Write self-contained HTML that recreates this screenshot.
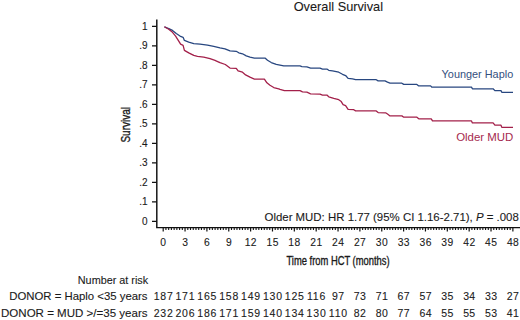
<!DOCTYPE html>
<html><head><meta charset="utf-8"><style>
html,body{margin:0;padding:0;background:#fff;}
body{width:520px;height:320px;overflow:hidden;}
svg{display:block;}
text{font-family:"Liberation Sans",sans-serif;fill:#1a1a1a;stroke:#1a1a1a;stroke-width:0.1px;}
.c{stroke-width:0.35px;}
</style></head><body>
<svg width="520" height="320" viewBox="0 0 520 320">
<rect width="520" height="320" fill="#fff"/>

<text x="293.7" y="10.9" font-size="13.6" textLength="89.3" lengthAdjust="spacingAndGlyphs">Overall Survival</text>
<path d="M156.8,19.5 V227.6 H520" fill="none" stroke="#111" stroke-width="1.45"/>
<text x="147.6" y="224.75" font-size="10" text-anchor="end">0</text>
<text x="147.6" y="205.25" font-size="10" text-anchor="end">.1</text>
<text x="147.6" y="185.75" font-size="10" text-anchor="end">.2</text>
<text x="147.6" y="166.25" font-size="10" text-anchor="end">.3</text>
<text x="147.6" y="146.75" font-size="10" text-anchor="end">.4</text>
<text x="147.6" y="127.25" font-size="10" text-anchor="end">.5</text>
<text x="147.6" y="107.75" font-size="10" text-anchor="end">.6</text>
<text x="147.6" y="88.25" font-size="10" text-anchor="end">.7</text>
<text x="147.6" y="68.75" font-size="10" text-anchor="end">.8</text>
<text x="147.6" y="49.25" font-size="10" text-anchor="end">.9</text>
<text x="147.6" y="29.75" font-size="10" text-anchor="end">1</text>
<path d="M152,221.30H156.8 M152,201.80H156.8 M152,182.30H156.8 M152,162.80H156.8 M152,143.30H156.8 M152,123.80H156.8 M152,104.30H156.8 M152,84.80H156.8 M152,65.30H156.8 M152,45.80H156.8 M152,26.30H156.8" stroke="#111" stroke-width="1.2"/>
<text x="163.45" y="245.6" font-size="10.3" letter-spacing="0.5" text-anchor="middle">0</text>
<text x="185.30" y="245.6" font-size="10.3" letter-spacing="0.5" text-anchor="middle">3</text>
<text x="207.16" y="245.6" font-size="10.3" letter-spacing="0.5" text-anchor="middle">6</text>
<text x="229.01" y="245.6" font-size="10.3" letter-spacing="0.5" text-anchor="middle">9</text>
<text x="250.87" y="245.6" font-size="10.3" letter-spacing="0.5" text-anchor="middle">12</text>
<text x="272.73" y="245.6" font-size="10.3" letter-spacing="0.5" text-anchor="middle">15</text>
<text x="294.58" y="245.6" font-size="10.3" letter-spacing="0.5" text-anchor="middle">18</text>
<text x="316.44" y="245.6" font-size="10.3" letter-spacing="0.5" text-anchor="middle">21</text>
<text x="338.29" y="245.6" font-size="10.3" letter-spacing="0.5" text-anchor="middle">24</text>
<text x="360.14" y="245.6" font-size="10.3" letter-spacing="0.5" text-anchor="middle">27</text>
<text x="382.00" y="245.6" font-size="10.3" letter-spacing="0.5" text-anchor="middle">30</text>
<text x="403.86" y="245.6" font-size="10.3" letter-spacing="0.5" text-anchor="middle">33</text>
<text x="425.71" y="245.6" font-size="10.3" letter-spacing="0.5" text-anchor="middle">36</text>
<text x="447.56" y="245.6" font-size="10.3" letter-spacing="0.5" text-anchor="middle">39</text>
<text x="469.42" y="245.6" font-size="10.3" letter-spacing="0.5" text-anchor="middle">42</text>
<text x="491.27" y="245.6" font-size="10.3" letter-spacing="0.5" text-anchor="middle">45</text>
<text x="513.13" y="245.6" font-size="10.3" letter-spacing="0.5" text-anchor="middle">48</text>
<path d="M163.20,227.6V231.6 M185.05,227.6V231.6 M206.91,227.6V231.6 M228.76,227.6V231.6 M250.62,227.6V231.6 M272.48,227.6V231.6 M294.33,227.6V231.6 M316.19,227.6V231.6 M338.04,227.6V231.6 M359.89,227.6V231.6 M381.75,227.6V231.6 M403.61,227.6V231.6 M425.46,227.6V231.6 M447.31,227.6V231.6 M469.17,227.6V231.6 M491.02,227.6V231.6 M512.88,227.6V231.6" stroke="#111" stroke-width="1.2"/>
<path d="M165.93,227.6V229.9 M168.66,227.6V229.9 M171.40,227.6V229.9 M174.13,227.6V229.9 M176.86,227.6V229.9 M179.59,227.6V229.9 M182.32,227.6V229.9 M187.79,227.6V229.9 M190.52,227.6V229.9 M193.25,227.6V229.9 M195.98,227.6V229.9 M198.71,227.6V229.9 M201.45,227.6V229.9 M204.18,227.6V229.9 M209.64,227.6V229.9 M212.37,227.6V229.9 M215.11,227.6V229.9 M217.84,227.6V229.9 M220.57,227.6V229.9 M223.30,227.6V229.9 M226.03,227.6V229.9 M231.50,227.6V229.9 M234.23,227.6V229.9 M236.96,227.6V229.9 M239.69,227.6V229.9 M242.42,227.6V229.9 M245.16,227.6V229.9 M247.89,227.6V229.9 M253.35,227.6V229.9 M256.08,227.6V229.9 M258.82,227.6V229.9 M261.55,227.6V229.9 M264.28,227.6V229.9 M267.01,227.6V229.9 M269.74,227.6V229.9 M275.21,227.6V229.9 M277.94,227.6V229.9 M280.67,227.6V229.9 M283.40,227.6V229.9 M286.13,227.6V229.9 M288.87,227.6V229.9 M291.60,227.6V229.9 M297.06,227.6V229.9 M299.79,227.6V229.9 M302.53,227.6V229.9 M305.26,227.6V229.9 M307.99,227.6V229.9 M310.72,227.6V229.9 M313.45,227.6V229.9 M318.92,227.6V229.9 M321.65,227.6V229.9 M324.38,227.6V229.9 M327.11,227.6V229.9 M329.84,227.6V229.9 M332.58,227.6V229.9 M335.31,227.6V229.9 M340.77,227.6V229.9 M343.50,227.6V229.9 M346.24,227.6V229.9 M348.97,227.6V229.9 M351.70,227.6V229.9 M354.43,227.6V229.9 M357.16,227.6V229.9 M362.63,227.6V229.9 M365.36,227.6V229.9 M368.09,227.6V229.9 M370.82,227.6V229.9 M373.55,227.6V229.9 M376.29,227.6V229.9 M379.02,227.6V229.9 M384.48,227.6V229.9 M387.21,227.6V229.9 M389.95,227.6V229.9 M392.68,227.6V229.9 M395.41,227.6V229.9 M398.14,227.6V229.9 M400.87,227.6V229.9 M406.34,227.6V229.9 M409.07,227.6V229.9 M411.80,227.6V229.9 M414.53,227.6V229.9 M417.26,227.6V229.9 M420.00,227.6V229.9 M422.73,227.6V229.9 M428.19,227.6V229.9 M430.92,227.6V229.9 M433.66,227.6V229.9 M436.39,227.6V229.9 M439.12,227.6V229.9 M441.85,227.6V229.9 M444.58,227.6V229.9 M450.05,227.6V229.9 M452.78,227.6V229.9 M455.51,227.6V229.9 M458.24,227.6V229.9 M460.97,227.6V229.9 M463.71,227.6V229.9 M466.44,227.6V229.9 M471.90,227.6V229.9 M474.63,227.6V229.9 M477.37,227.6V229.9 M480.10,227.6V229.9 M482.83,227.6V229.9 M485.56,227.6V229.9 M488.29,227.6V229.9 M493.76,227.6V229.9 M496.49,227.6V229.9 M499.22,227.6V229.9 M501.95,227.6V229.9 M504.68,227.6V229.9 M507.42,227.6V229.9 M510.15,227.6V229.9" stroke="#111" stroke-width="1.1"/>
<text x="286.5" y="265" class="c" font-size="12" textLength="103" lengthAdjust="spacingAndGlyphs">Time from HCT (months)</text>
<text transform="translate(130.3,142.6) rotate(-90)" x="0" y="0" class="c" font-size="12" textLength="35.6" lengthAdjust="spacingAndGlyphs">Survival</text>
<polyline points="164.40,26.80 168.75,28.55 172.50,30.40 176.25,33.55 180.00,36.05 183.10,37.30 184.40,40.40 188.75,42.05 193.75,43.55 200.00,44.20 207.50,45.05 213.75,46.30 220.00,47.80 225.00,48.80 230.00,50.90 236.25,51.30 238.75,52.80 242.50,53.80 246.25,55.90 250.00,57.20 254.40,58.05 265.00,58.05 267.50,60.30 271.25,62.55 276.25,64.30 280.00,65.05 283.75,65.90 300.00,65.90 301.90,66.55 306.90,66.90 310.60,68.05 320.00,68.05 322.50,69.05 326.90,69.05 328.75,70.30 332.50,70.90 338.75,72.20 342.50,74.30 345.60,75.55 348.10,78.40 352.50,78.80 355.60,79.70 376.25,79.70 378.10,80.90 385.00,80.90 387.50,82.20 390.00,83.20 401.90,83.20 403.75,84.40 416.90,84.40 418.75,85.90 430.60,85.90 431.90,87.20 471.50,87.10 472.40,88.80 493.10,88.80 494.90,90.60 501.00,90.60 501.80,92.30 513.00,92.30" fill="none" stroke="#284780" stroke-width="1.3" stroke-linejoin="round"/>
<polyline points="164.40,26.80 168.75,29.20 172.50,32.30 175.60,36.05 178.75,41.05 180.60,44.20 183.10,45.40 184.40,50.40 188.75,52.90 193.75,55.40 197.50,56.30 203.75,57.05 210.00,58.55 215.00,60.40 218.75,62.05 220.00,62.70 225.30,64.50 230.00,68.05 236.25,68.30 238.10,70.90 242.50,72.20 245.60,74.90 250.00,77.20 254.40,79.05 264.40,79.05 266.90,82.80 270.00,85.30 273.75,87.55 278.75,88.80 280.00,89.30 284.40,90.55 300.00,90.55 302.50,91.80 306.90,92.20 310.60,93.80 320.00,94.05 322.50,95.05 326.90,95.05 328.75,96.80 333.75,98.40 338.75,99.70 341.25,101.55 343.10,104.70 345.60,105.55 348.10,109.30 353.75,109.70 355.60,110.90 376.25,110.90 378.10,112.55 385.60,112.80 387.50,114.05 390.00,115.90 401.90,115.90 403.75,117.20 416.90,117.20 418.75,118.80 431.25,118.80 432.50,120.90 471.50,120.90 472.40,122.90 493.10,122.90 494.90,125.20 501.00,125.20 501.80,127.40 513.00,127.40" fill="none" stroke="#a3204a" stroke-width="1.3" stroke-linejoin="round"/>
<text x="441.6" y="77.7" font-size="11" textLength="71.6" lengthAdjust="spacingAndGlyphs" style="fill:#34507e;stroke:none">Younger Haplo</text>
<text x="456.2" y="140.8" font-size="11.2" textLength="57.2" lengthAdjust="spacingAndGlyphs" style="fill:#a52a4e;stroke:none">Older MUD</text>
<text x="264.5" y="220.8" font-size="11" textLength="254.3" lengthAdjust="spacingAndGlyphs">Older MUD: HR 1.77 (95% CI 1.16-2.71), <tspan font-style="italic">P</tspan> = .008</text>
<text x="77.8" y="283.5" font-size="11" textLength="70.4" lengthAdjust="spacingAndGlyphs">Number at risk</text>
<text x="9.2" y="300.3" font-size="11" textLength="138.3" lengthAdjust="spacingAndGlyphs">DONOR = Haplo &lt;35 years</text>
<text x="1.0" y="316.8" font-size="11" textLength="146.5" lengthAdjust="spacingAndGlyphs">DONOR = MUD &gt;/=35 years</text>
<text x="163.60" y="299.7" font-size="10.5" letter-spacing="0.8" text-anchor="middle">187</text>
<text x="163.60" y="317.1" font-size="10.5" letter-spacing="0.8" text-anchor="middle">232</text>
<text x="185.45" y="299.7" font-size="10.5" letter-spacing="0.8" text-anchor="middle">171</text>
<text x="185.45" y="317.1" font-size="10.5" letter-spacing="0.8" text-anchor="middle">206</text>
<text x="207.31" y="299.7" font-size="10.5" letter-spacing="0.8" text-anchor="middle">165</text>
<text x="207.31" y="317.1" font-size="10.5" letter-spacing="0.8" text-anchor="middle">186</text>
<text x="229.16" y="299.7" font-size="10.5" letter-spacing="0.8" text-anchor="middle">158</text>
<text x="229.16" y="317.1" font-size="10.5" letter-spacing="0.8" text-anchor="middle">171</text>
<text x="251.02" y="299.7" font-size="10.5" letter-spacing="0.8" text-anchor="middle">149</text>
<text x="251.02" y="317.1" font-size="10.5" letter-spacing="0.8" text-anchor="middle">159</text>
<text x="272.88" y="299.7" font-size="10.5" letter-spacing="0.8" text-anchor="middle">130</text>
<text x="272.88" y="317.1" font-size="10.5" letter-spacing="0.8" text-anchor="middle">140</text>
<text x="294.73" y="299.7" font-size="10.5" letter-spacing="0.8" text-anchor="middle">125</text>
<text x="294.73" y="317.1" font-size="10.5" letter-spacing="0.8" text-anchor="middle">134</text>
<text x="316.58" y="299.7" font-size="10.5" letter-spacing="0.8" text-anchor="middle">116</text>
<text x="316.58" y="317.1" font-size="10.5" letter-spacing="0.8" text-anchor="middle">130</text>
<text x="338.24" y="299.7" font-size="10.5" letter-spacing="0.4" text-anchor="middle">97</text>
<text x="338.44" y="317.1" font-size="10.5" letter-spacing="0.8" text-anchor="middle">110</text>
<text x="360.09" y="299.7" font-size="10.5" letter-spacing="0.4" text-anchor="middle">73</text>
<text x="360.09" y="317.1" font-size="10.5" letter-spacing="0.4" text-anchor="middle">82</text>
<text x="381.95" y="299.7" font-size="10.5" letter-spacing="0.4" text-anchor="middle">71</text>
<text x="381.95" y="317.1" font-size="10.5" letter-spacing="0.4" text-anchor="middle">80</text>
<text x="403.81" y="299.7" font-size="10.5" letter-spacing="0.4" text-anchor="middle">67</text>
<text x="403.81" y="317.1" font-size="10.5" letter-spacing="0.4" text-anchor="middle">77</text>
<text x="425.66" y="299.7" font-size="10.5" letter-spacing="0.4" text-anchor="middle">57</text>
<text x="425.66" y="317.1" font-size="10.5" letter-spacing="0.4" text-anchor="middle">64</text>
<text x="447.51" y="299.7" font-size="10.5" letter-spacing="0.4" text-anchor="middle">35</text>
<text x="447.51" y="317.1" font-size="10.5" letter-spacing="0.4" text-anchor="middle">55</text>
<text x="469.37" y="299.7" font-size="10.5" letter-spacing="0.4" text-anchor="middle">34</text>
<text x="469.37" y="317.1" font-size="10.5" letter-spacing="0.4" text-anchor="middle">55</text>
<text x="491.22" y="299.7" font-size="10.5" letter-spacing="0.4" text-anchor="middle">33</text>
<text x="491.22" y="317.1" font-size="10.5" letter-spacing="0.4" text-anchor="middle">53</text>
<text x="513.08" y="299.7" font-size="10.5" letter-spacing="0.4" text-anchor="middle">27</text>
<text x="513.08" y="317.1" font-size="10.5" letter-spacing="0.4" text-anchor="middle">41</text>
</svg></body></html>
